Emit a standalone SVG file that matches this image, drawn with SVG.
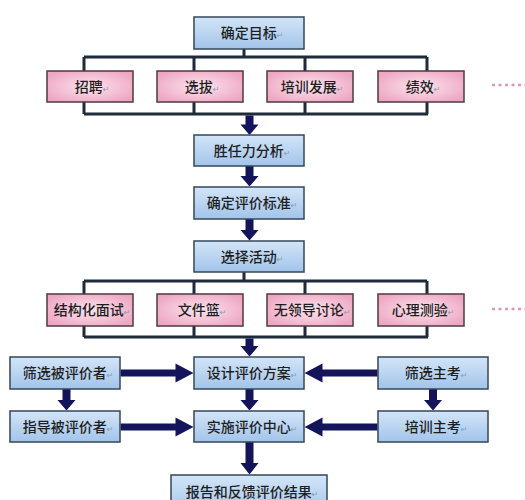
<svg xmlns="http://www.w3.org/2000/svg" width="525" height="500" viewBox="0 0 525 500">
<defs>
<linearGradient id="gb" x1="0" y1="0" x2="0" y2="1">
<stop offset="0" stop-color="#d3e5f8"/>
<stop offset="1" stop-color="#a2c4ea"/>
</linearGradient>
<radialGradient id="gp" cx="0.5" cy="0.5" r="0.6">
<stop offset="0" stop-color="#fce4ee"/>
<stop offset="1" stop-color="#eea6c2"/>
</radialGradient>
<style>
.b{fill:url(#gb);stroke:#35475a;stroke-width:1.5}
.p{fill:url(#gp);stroke:#4d3a42;stroke-width:1.5}
.t{font-family:"Noto Sans CJK SC","DejaVu Sans",sans-serif;font-size:14px;font-weight:500;fill:#1e1e1e;text-anchor:middle}
.m{font-size:8px;font-weight:400;fill:#8a9aac}
.ln{fill:none;stroke:#1f2b3b;stroke-width:3}
.ar{fill:#14145a}
.dot{fill:none;stroke:#d99ab5;stroke-width:2.5;stroke-dasharray:3 3.5}
</style>
</defs>
<rect width="525" height="500" fill="#ffffff"/>

<g id="connectors">
<path class="ln" d="M244 49V57M84 57H427M84 57V71M194 57V71M305 57V71M427 57V71"/>
<path class="ln" d="M84 102V114M194 102V114M305 102V114M427 102V114M84 114H428"/>
<path class="ln" d="M244 272V281M84 281H427M84 281V294M194 281V294M305 281V294M427 281V294"/>
<path class="ln" d="M84 326V337M194 326V337M305 326V337M427 326V337M84 337H428"/>
<path class="ar" d="M245.5 115.5h8v9h5l-9 10.5l-9-10.5h5z"/>
<path class="ar" d="M245.5 166h8v10h5l-9 10.5l-9-10.5h5z"/>
<path class="ar" d="M245.5 219h8v11h5l-9 10.5l-9-10.5h5z"/>
<path class="ar" d="M245.5 338.5h8v7.5h5l-9 10.5l-9-10.5h5z"/>
<path class="ar" d="M245.5 389h8v11h5l-9 10.5l-9-10.5h5z"/>
<path class="ar" d="M62.5 389h8v11h5l-9 10.5l-9-10.5h5z"/>
<path class="ar" d="M429 389h8v11h5l-9 10.5l-9-10.5h5z"/>
<path class="ar" d="M245.5 442h8v21h5l-9 11.5l-9-11.5h5z"/>
<path class="ar" d="M120.5 369.5h55v-6l18 9.5l-18 9.5v-6h-55z"/>
<path class="ar" d="M120.5 423.5h55v-6l18 9.5l-18 9.5v-6h-55z"/>
<path class="ar" d="M377.5 369.5h-55v-6l-18 9.5l18 9.5v-6h55z"/>
<path class="ar" d="M377.5 423.5h-55v-6l-18 9.5l18 9.5v-6h55z"/>
<path class="dot" d="M492 85H525"/>
<path class="dot" d="M492 309H525"/>
</g>

<g id="n-goal"><rect class="b" x="194" y="17" width="110" height="32"/><text class="t" x="252" y="38">确定目标<tspan class="m">↵</tspan></text></g>

<g id="n-zhaopin"><rect class="p" x="47" y="71" width="86" height="31"/><text class="t" x="92" y="91.5">招聘<tspan class="m">↵</tspan></text></g>
<g id="n-xuanba"><rect class="p" x="157" y="71" width="86" height="31"/><text class="t" x="202" y="91.5">选拔<tspan class="m">↵</tspan></text></g>
<g id="n-peixun"><rect class="p" x="267" y="71" width="86" height="31"/><text class="t" x="312" y="91.5">培训发展<tspan class="m">↵</tspan></text></g>
<g id="n-jixiao"><rect class="p" x="378" y="71" width="86" height="31"/><text class="t" x="423" y="91.5">绩效<tspan class="m">↵</tspan></text></g>

<g id="n-competency"><rect class="b" x="194" y="135" width="110" height="31"/><text class="t" x="252" y="155.5">胜任力分析<tspan class="m">↵</tspan></text></g>
<g id="n-criteria"><rect class="b" x="194" y="187" width="110" height="32"/><text class="t" x="252" y="208">确定评价标准<tspan class="m">↵</tspan></text></g>
<g id="n-activity"><rect class="b" x="194" y="241" width="110" height="31"/><text class="t" x="252" y="261.5">选择活动<tspan class="m">↵</tspan></text></g>

<g id="n-interview"><rect class="p" x="47" y="294" width="86" height="32"/><text class="t" x="92" y="315">结构化面试<tspan class="m">↵</tspan></text></g>
<g id="n-inbasket"><rect class="p" x="157" y="294" width="86" height="32"/><text class="t" x="202" y="315">文件篮<tspan class="m">↵</tspan></text></g>
<g id="n-lgd"><rect class="p" x="267" y="294" width="86" height="32"/><text class="t" x="312" y="315">无领导讨论<tspan class="m">↵</tspan></text></g>
<g id="n-psych"><rect class="p" x="378" y="294" width="86" height="32"/><text class="t" x="423" y="315">心理测验<tspan class="m">↵</tspan></text></g>

<g id="n-screen-cand"><rect class="b" x="10" y="357" width="110" height="32"/><text class="t" x="68" y="378">筛选被评价者<tspan class="m">↵</tspan></text></g>
<g id="n-design"><rect class="b" x="194" y="357" width="110" height="32"/><text class="t" x="252" y="378">设计评价方案<tspan class="m">↵</tspan></text></g>
<g id="n-screen-asr"><rect class="b" x="378" y="357" width="110" height="32"/><text class="t" x="436" y="378">筛选主考<tspan class="m">↵</tspan></text></g>

<g id="n-guide-cand"><rect class="b" x="10" y="411" width="110" height="31"/><text class="t" x="68" y="431.5">指导被评价者<tspan class="m">↵</tspan></text></g>
<g id="n-implement"><rect class="b" x="194" y="411" width="110" height="31"/><text class="t" x="252" y="431.5">实施评价中心<tspan class="m">↵</tspan></text></g>
<g id="n-train-asr"><rect class="b" x="378" y="411" width="110" height="31"/><text class="t" x="436" y="431.5">培训主考<tspan class="m">↵</tspan></text></g>

<g id="n-report"><rect class="b" x="171" y="475" width="156" height="40"/><text class="t" x="252" y="497">报告和反馈评价结果<tspan class="m">↵</tspan></text></g>
</svg>
